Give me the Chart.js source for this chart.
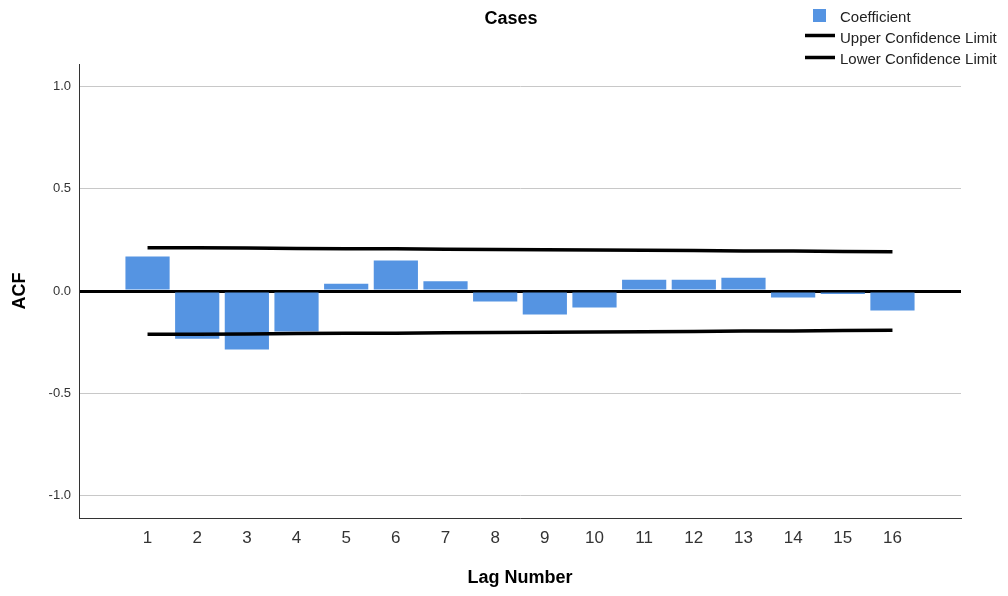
<!DOCTYPE html>
<html>
<head>
<meta charset="utf-8">
<script src="https://cdn.jsdelivr.net/npm/chart.js@4/dist/chart.umd.min.js"></script>
<style>
html,body{margin:0;padding:0;background:#fff;}
#wrap{width:1008px;height:596px;position:relative;}
</style>
</head>
<body>
<div id="wrap"><canvas id="c" width="1008" height="596"></canvas></div>
<script>
const lags = [1,2,3,4,5,6,7,8,9,10,11,12,13,14,15,16];
const coefficient = [0.169,-0.234,-0.286,-0.198,0.035,0.149,0.048,-0.051,-0.115,-0.081,0.055,0.055,0.065,-0.032,-0.015,-0.095];
const upperLimit = [0.212,0.211,0.210,0.208,0.207,0.206,0.204,0.203,0.202,0.200,0.199,0.198,0.196,0.195,0.193,0.192];
const lowerLimit = [-0.212,-0.211,-0.210,-0.208,-0.207,-0.206,-0.204,-0.203,-0.202,-0.200,-0.199,-0.198,-0.196,-0.195,-0.193,-0.192];
const yTicks = [-1.0,-0.5,0.0,0.5,1.0];
const chartTitle = 'Cases';
const seriesNames = ['Coefficient','Upper Confidence Limit','Lower Confidence Limit'];

const FONT = "'Liberation Sans', Arial, sans-serif";
const BAR_COLOR = '#5594e2';

const pts = (arr) => lags.map((l,i)=>({x:l,y:arr[i]}));

const overlay = {
  id:'overlay',
  afterDraw(chart){
    const ctx = chart.ctx;
    ctx.save();
    // title
    ctx.fillStyle = '#000';
    ctx.font = 'bold 18px ' + FONT;
    ctx.textAlign = 'center';
    ctx.textBaseline = 'alphabetic';
    ctx.fillText(chartTitle, 511, 24);
    // legend
    ctx.font = '15px ' + FONT;
    ctx.textAlign = 'left';
    ctx.fillStyle = BAR_COLOR;
    ctx.fillRect(813, 9, 13, 13);
    ctx.fillStyle = '#222';
    ctx.fillText(seriesNames[0], 840, 22);
    ctx.strokeStyle = '#000';
    ctx.lineWidth = 3.5;
    ctx.beginPath(); ctx.moveTo(805, 35.5); ctx.lineTo(835, 35.5); ctx.stroke();
    ctx.beginPath(); ctx.moveTo(805, 57.5); ctx.lineTo(835, 57.5); ctx.stroke();
    ctx.fillText(seriesNames[1], 840, 43);
    ctx.fillText(seriesNames[2], 840, 64);
    ctx.restore();
  }
};

new Chart(document.getElementById('c'), {
  type:'bar',
  data:{
    datasets:[
      {type:'bar', label:seriesNames[0], data:pts(coefficient), backgroundColor:BAR_COLOR, borderWidth:0, barPercentage:0.89, categoryPercentage:1.0, order:3},
      {type:'line', label:seriesNames[1], data:pts(upperLimit), borderColor:'#000', borderWidth:3.5, pointRadius:0, tension:0, fill:false, order:1},
      {type:'line', label:seriesNames[2], data:pts(lowerLimit), borderColor:'#000', borderWidth:3.5, pointRadius:0, tension:0, fill:false, order:2}
    ]
  },
  options:{
    responsive:false,
    animation:false,
    devicePixelRatio:1,
    layout:{padding:{top:64,right:47,left:0,bottom:0}},
    plugins:{legend:{display:false}, title:{display:false}, tooltip:{enabled:false}},
    scales:{
      x:{
        type:'linear', min:-0.38, max:17.38, offset:false,
        afterBuildTicks(s){ s.ticks = lags.map(v=>({value:v})); },
        afterFit(s){ s.height = 78; },
        grid:{display:false, drawTicks:false},
        border:{display:true, color:'#333', width:1},
        ticks:{color:'#333', font:{family:FONT, size:17}, padding:10, callback:(v)=>String(v), maxRotation:0, autoSkip:false},
        title:{display:true, text:'Lag Number', color:'#000', font:{family:FONT, size:18, weight:'bold', lineHeight:1.2}, padding:{top:0,bottom:7}}
      },
      y:{
        min:-1.11, max:1.11, z:1,
        afterBuildTicks(s){ s.ticks = yTicks.map(v=>({value:v})); },
        afterFit(s){ s.width = 79; },
        grid:{drawTicks:false, color:(c)=> c.tick && c.tick.value===0 ? '#000' : '#c8c8c8', lineWidth:(c)=> c.tick && c.tick.value===0 ? 3 : 1},
        border:{display:true, color:'#333', width:1},
        ticks:{color:'#333', font:{family:FONT, size:13}, padding:8, callback:(v)=>Number(v).toFixed(1)},
        title:{display:true, text:'ACF', color:'#000', font:{family:FONT, size:18, weight:'bold', lineHeight:1.2}, padding:{top:9,bottom:0}}
      }
    }
  },
  plugins:[overlay]
});
</script>
</body>
</html>
